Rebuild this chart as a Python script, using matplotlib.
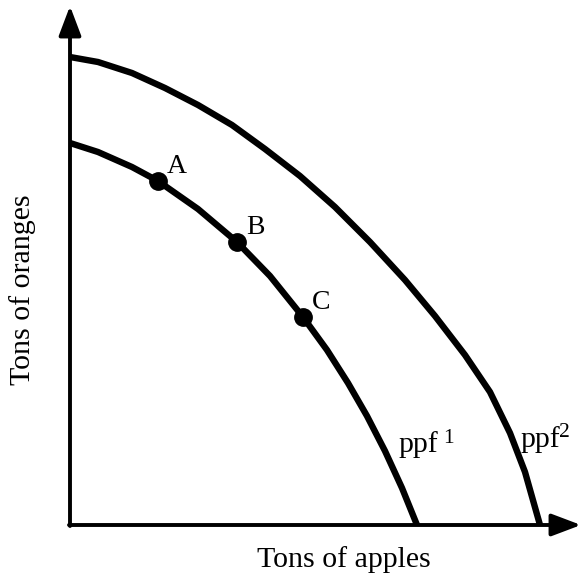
import matplotlib
matplotlib.use("Agg")
import matplotlib.pyplot as plt

plt.rcParams['font.family'] = ['Liberation Serif', 'DejaVu Serif']

# Curve points (apples, oranges)
ppf1_apples = [0, 28, 62, 88, 128, 167, 200, 233, 257, 278, 297, 315, 332, 347]
ppf1_oranges = [382, 373, 358, 344, 316, 283, 249, 208, 175, 142, 109, 74, 37, 0]

ppf2_apples = [0, 28, 62, 95, 128, 162, 195, 230, 265, 300, 335, 365, 395, 420, 440, 455, 470]
ppf2_oranges = [468, 463, 452, 437, 420, 400, 376, 349, 318, 283, 245, 209, 170, 133, 92, 53, 0]

point_labels = ['A', 'B', 'C']
point_apples = [88, 167, 233]
point_oranges = [344, 283, 208]

x_label = 'Tons of apples'
y_label = 'Tons of oranges'

fig = plt.figure(figsize=(5.83, 5.77), dpi=100)
ax = fig.add_axes([0, 0, 1, 1])
ax.set_xlim(-70, 513)
ax.set_ylim(-52, 525)
ax.axis('off')

# axes with arrows
arrow_props = dict(arrowstyle='-|>,head_length=0.9,head_width=0.34',
                   lw=2.8, color='black', mutation_scale=20,
                   shrinkA=0, shrinkB=0)
ax.annotate('', xy=(0, 519), xytext=(0, -1), arrowprops=arrow_props)
ax.annotate('', xy=(511, 0), xytext=(-1, 0), arrowprops=arrow_props)

ax.plot(ppf1_apples, ppf1_oranges, color='black', lw=4.6,
        solid_joinstyle='round', solid_capstyle='butt')
ax.plot(ppf2_apples, ppf2_oranges, color='black', lw=4.6,
        solid_joinstyle='round', solid_capstyle='butt')

ax.plot(point_apples, point_oranges, 'o', color='black', ms=12.5, zorder=5)
for lab, xa, ya in zip(point_labels, point_apples, point_oranges):
    ax.text(xa + 9, ya + 8, lab, fontsize=20, ha='left', va='baseline')

# curve labels
ax.text(328, 73, 'ppf', fontsize=21.5, ha='left', va='baseline')
ax.text(373, 82, '1', fontsize=15.5, ha='left', va='baseline')
ax.text(450, 78, 'ppf', fontsize=21.5, ha='left', va='baseline')
ax.text(489, 88, '2', fontsize=15.5, ha='left', va='baseline')

ax.text(274, -42, x_label, fontsize=21.5, ha='center', va='baseline')
ax.text(-47, 235, y_label, fontsize=21.5, ha='center', va='center', rotation=90)

fig.savefig('out.png', dpi=100)
